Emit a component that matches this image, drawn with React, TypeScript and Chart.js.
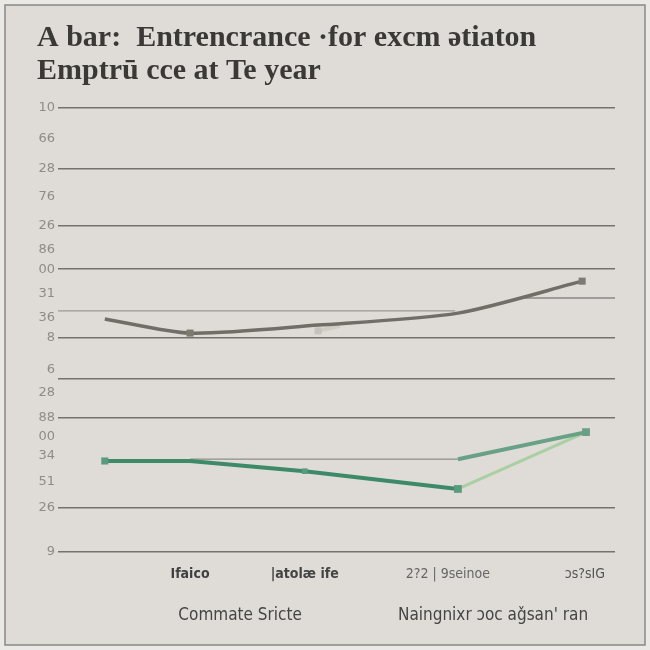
import React, { useEffect, useRef } from "react";
import { Chart, registerables } from "chart.js";

Chart.register(...registerables);

const titleLines = ["A bar:  Entrencrance ·for excm ətiaton", "Emptrū cce at Te year"];

const yTickValues = [100, 93, 86.3, 80, 73.4, 68, 63.7, 58.3, 52.7, 48.2, 41.0, 39.0, 35.8, 30.2, 25.9, 21.6, 15.8, 9.9, 0];
const yTickLabels = ["·10", "66", "28", "76", "26", "86", "00", "31", "36", "8", "6", "", "28", "88", "00", "34", "51", "26", "9"];
const yGridLines = [1, 0, 1, 0, 1, 0, 1, 0, 0, 1, 0, 1, 0, 1, 0, 0, 0, 1, 1];

const xTickValues = [23.7, 44.3, 70, 94.6];
const xTickLabels = ["Ifaico", "|atolæ ife", "2?2 | 9seinoe", "ɔs?sIG"];
const xTickColors = ["#3f3f3f", "#444444", "#666666", "#555555"];

const footerLabels = ["Commate Sricte", "Naingnixr ɔoc aǧsan' ran"];
const footerCenters = [32.7, 78.1];

const grayX = [8.4, 23.7, 46.7, 71.8, 94.1];
const grayY = [52.5, 49.3, 51.1, 53.8, 61.0];

const paleGrayX = [46.7, 50.6];
const paleGrayY = [49.8, 50.9];

const greenX = [8.4, 23.7, 44.3, 71.8];
const greenY = [20.5, 20.5, 18.2, 14.2];

const midGreenX = [71.8, 94.8];
const midGreenY = [20.9, 27.0];

const lightGreenX = [71.8, 94.8];
const lightGreenY = [14.2, 27.0];

const thinUpperX = [0, 71.3];
const thinUpperY = [54.3, 54.3];

const thinLowerX = [23.7, 71.8];
const thinLowerY = [20.9, 20.9];

const thinPartialX = [83.8, 100];
const thinPartialY = [57.2, 57.2];

const pts = (xs: number[], ys: number[]) => xs.map((x, i) => ({ x, y: ys[i] }));

const framePlugin = {
  id: "frame",
  beforeDraw(chart: any) {
    const { ctx, width, height } = chart;
    ctx.save();
    ctx.fillStyle = "#ebe9e6";
    ctx.fillRect(0, 0, width, height);
    ctx.fillStyle = "#dfdcd7";
    ctx.fillRect(5, 5, width - 10, height - 10);
    ctx.strokeStyle = "#8a8886";
    ctx.lineWidth = 1.5;
    ctx.strokeRect(5, 5, width - 10, height - 10);
    ctx.restore();
  },
};

const footerPlugin = {
  id: "footerText",
  afterDraw(chart: any) {
    const { ctx } = chart;
    const xs = chart.scales.x;
    ctx.save();
    ctx.font = '17px "DejaVu Sans Condensed", "Roboto", sans-serif';
    ctx.fillStyle = "#454545";
    ctx.textAlign = "center";
    ctx.textBaseline = "middle";
    footerLabels.forEach((t, i) => {
      ctx.fillText(t, xs.getPixelForValue(footerCenters[i]), 616);
    });
    ctx.restore();
  },
};

export default function App() {
  const ref = useRef<HTMLCanvasElement | null>(null);

  useEffect(() => {
    document.body.style.margin = "0";
    const canvas = ref.current;
    if (!canvas) return;
    const chart = new Chart(canvas, {
      type: "line",
      data: {
        datasets: [
          {
            label: "gray",
            data: pts(grayX, grayY),
            borderColor: "#716d67",
            backgroundColor: "#7d7a72",
            borderWidth: 3.5,
            tension: 0.25,
            pointStyle: "rect",
            pointRadius: [0, 5, 0, 0, 5],
            pointBorderWidth: 0,
          },
          {
            label: "green",
            data: pts(greenX, greenY),
            borderColor: "#3d8a68",
            backgroundColor: "#5a9a7f",
            borderWidth: 4,
            tension: 0,
            pointStyle: "rect",
            pointRadius: [5, 0, 4, 5.5],
            pointBorderWidth: 0,
          },
          {
            label: "paleGray",
            data: pts(paleGrayX, paleGrayY),
            borderColor: "#cfcdc4",
            backgroundColor: "#c5c3bb",
            borderWidth: 4,
            pointStyle: "rect",
            pointRadius: [5, 0],
            pointBorderWidth: 0,
          },
          {
            label: "midGreen",
            data: pts(midGreenX, midGreenY),
            borderColor: "#68a186",
            backgroundColor: "#6a9f86",
            borderWidth: 4,
            pointStyle: "rect",
            pointRadius: [0, 5.5],
            pointBorderWidth: 0,
          },
          {
            label: "lightGreen",
            data: pts(lightGreenX, lightGreenY),
            borderColor: "#a9cfa2",
            borderWidth: 3,
            pointRadius: 0,
          },
          {
            label: "thinUpper",
            data: pts(thinUpperX, thinUpperY),
            borderColor: "#9b9995",
            borderWidth: 1.3,
            pointRadius: 0,
          },
          {
            label: "thinLower",
            data: pts(thinLowerX, thinLowerY),
            borderColor: "#8f8d89",
            borderWidth: 1.3,
            pointRadius: 0,
          },
          {
            label: "thinPartial",
            data: pts(thinPartialX, thinPartialY),
            borderColor: "#8a8884",
            borderWidth: 1.5,
            pointRadius: 0,
          },
        ],
      },
      options: {
        animation: false,
        responsive: true,
        maintainAspectRatio: false,
        layout: { padding: { left: 37, right: 35, top: 0, bottom: 0 } },
        plugins: {
          legend: { display: false },
          tooltip: { enabled: false },
          title: {
            display: true,
            text: titleLines,
            align: "start",
            color: "#3b3935",
            font: { family: '"Liberation Serif", serif', size: 30, weight: "bold", lineHeight: 1.1 },
            padding: { top: 22, bottom: 20 },
          },
        },
        scales: {
          x: {
            type: "linear",
            min: 0,
            max: 100,
            grid: { display: false, drawTicks: false },
            border: { display: false },
            afterBuildTicks: (scale: any) => {
              scale.ticks = xTickValues.map((v) => ({ value: v }));
            },
            afterFit: (scale: any) => {
              scale.height = 98;
            },
            ticks: {
              autoSkip: false,
              maxRotation: 0,
              padding: 14,
              color: (c: any) => xTickColors[c.index] || "#4a4a4a",
              font: (c: any) => ({
                family: '"DejaVu Sans Condensed", "Roboto", sans-serif',
                size: 14,
                weight: c.index < 2 ? "bold" : "normal",
              }),
              callback: (_v: any, i: number) => xTickLabels[i],
            },
          },
          y: {
            type: "linear",
            min: 0,
            max: 100,
            border: { display: false },
            grid: {
              drawTicks: false,
              lineWidth: 1.6,
              color: (c: any) => (yGridLines[c.index] ? "#74726e" : "rgba(0,0,0,0)"),
            },
            afterBuildTicks: (scale: any) => {
              scale.ticks = yTickValues.map((v) => ({ value: v }));
            },
            afterFit: (scale: any) => {
              scale.width = 21;
            },
            ticks: {
              autoSkip: false,
              padding: 3,
              color: "#8e8c88",
              font: { family: '"DejaVu Sans", sans-serif', size: 13 },
              callback: (_v: any, i: number) => yTickLabels[i],
            },
          },
        },
      },
      plugins: [framePlugin, footerPlugin],
    });
    return () => chart.destroy();
  }, []);

  return (
    <div style={{ width: 650, height: 650, position: "relative" }}>
      <canvas ref={ref} />
    </div>
  );
}
